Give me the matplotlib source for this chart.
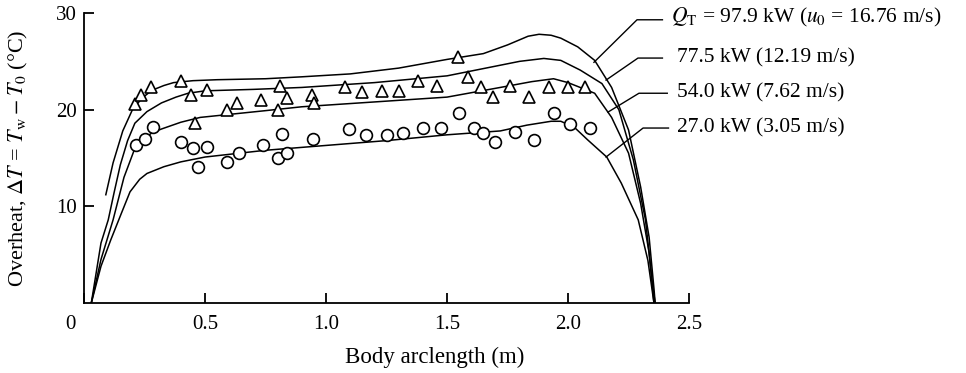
import matplotlib
matplotlib.use("Agg")
import matplotlib.pyplot as plt
from matplotlib.transforms import ScaledTranslation

plt.rcParams["font.family"] = ["Liberation Serif", "DejaVu Serif"]
plt.rcParams["mathtext.fontset"] = "stix"

# Computed wall overheat curves (x: body arclength in m, y: overheat in deg C)
x_979 = [0.09, 0.12, 0.16, 0.20, 0.24, 0.28, 0.33, 0.37, 0.45, 0.55, 0.75, 0.90,
         1.10, 1.30, 1.50, 1.65, 1.75, 1.835, 1.88, 1.93, 1.97, 2.04, 2.11, 2.18,
         2.25, 2.30, 2.335, 2.355, 2.36]
y_979 = [11.2, 14.5, 17.8, 20.0, 21.2, 22.0, 22.5, 22.8, 23.0, 23.1, 23.2, 23.4,
         23.7, 24.3, 25.2, 25.8, 26.7, 27.6, 27.8, 27.7, 27.4, 26.5, 25.1, 22.3,
         17.9, 12.0, 6.8, 1.5, 0.0]

x_775 = [0.03, 0.07, 0.10, 0.124, 0.15, 0.18, 0.21, 0.26, 0.32, 0.38, 0.43, 0.50,
         0.70, 0.90, 1.20, 1.50, 1.70, 1.80, 1.90, 1.97, 2.05, 2.14, 2.21, 2.27,
         2.32, 2.35, 2.36]
y_775 = [0.0, 6.2, 8.6, 11.4, 14.3, 16.8, 18.6, 19.8, 20.7, 21.3, 21.7, 21.95,
         22.1, 22.3, 22.8, 23.5, 24.5, 25.0, 25.3, 25.1, 24.1, 22.7, 20.0, 14.8,
         8.6, 1.7, 0.0]

x_540 = [0.03, 0.07, 0.12, 0.165, 0.21, 0.25, 0.28, 0.32, 0.40, 0.48, 0.75, 0.90,
         1.20, 1.50, 1.72, 1.85, 1.94, 2.00, 2.11, 2.18, 2.25, 2.30, 2.335, 2.355]
y_540 = [0.0, 4.5, 8.6, 13.0, 16.0, 17.0, 17.6, 18.0, 18.7, 19.2, 19.9, 20.3,
         20.8, 21.3, 22.3, 22.9, 23.2, 22.8, 21.7, 19.2, 15.5, 10.3, 5.2, 0.0]

x_270 = [0.03, 0.07, 0.11, 0.153, 0.19, 0.23, 0.26, 0.33, 0.40, 0.50, 0.75, 1.00,
         1.25, 1.50, 1.72, 1.83, 1.93, 1.97, 2.025, 2.08, 2.16, 2.22, 2.29, 2.33,
         2.355]
y_270 = [0.0, 3.8, 6.5, 9.2, 11.5, 12.8, 13.4, 14.1, 14.6, 15.1, 15.8, 16.3,
         16.8, 17.4, 17.8, 18.4, 18.8, 18.8, 18.2, 16.9, 15.1, 12.4, 8.6, 4.4, 0.0]

# Measured overheat, triangles
tri_x = [0.21, 0.235, 0.277, 0.40, 0.44, 0.51, 0.46, 0.59, 0.63, 0.73, 0.80, 0.81,
         0.84, 0.94, 0.95, 1.08, 1.15, 1.23, 1.30, 1.38, 1.46, 1.545, 1.585, 1.64,
         1.69, 1.76, 1.84, 1.92, 2.00, 2.07]
tri_y = [20.6, 21.5, 22.3, 23.0, 21.5, 22.0, 18.6, 20.0, 20.7, 21.0, 20.0, 22.4,
         21.2, 21.5, 20.7, 22.3, 21.8, 21.9, 21.9, 23.0, 22.4, 25.4, 23.4, 22.3,
         21.3, 22.4, 21.3, 22.3, 22.3, 22.3]

# Measured overheat, circles
cir_x = [0.215, 0.25, 0.285, 0.40, 0.45, 0.51, 0.47, 0.59, 0.64, 0.74, 0.80, 0.82,
         0.84, 0.945, 1.095, 1.165, 1.25, 1.32, 1.40, 1.475, 1.55, 1.61, 1.65,
         1.70, 1.78, 1.86, 1.94, 2.01, 2.09]
cir_y = [16.3, 17.0, 18.2, 16.7, 16.0, 16.1, 14.1, 14.6, 15.5, 16.3, 15.0, 17.5,
         15.5, 17.0, 18.0, 17.4, 17.4, 17.6, 18.1, 18.1, 19.7, 18.1, 17.6,
         16.7, 17.7, 16.9, 19.7, 18.5, 18.1]

curve_labels = [r"$Q_\mathrm{T}$ = 97.9 kW ($u_0$ = 16.76 m/s)",
                "77.5 kW (12.19 m/s)",
                "54.0 kW (7.62 m/s)",
                "27.0 kW (3.05 m/s)"]
# leader line: point on curve, elbow, end of horizontal run
leader_pts = [[(2.107, 24.9), (2.285, 29.3), (2.39, 29.3)],
              [(2.157, 23.06), (2.289, 25.34), (2.39, 25.34)],
              [(2.165, 19.75), (2.293, 21.7), (2.41, 21.7)],
              [(2.157, 15.1), (2.31, 18.1), (2.415, 18.1)]]
label_x = [2.425, 2.452, 2.452, 2.452]
label_y = [29.5, 25.4, 21.7, 18.1]

xticks = [0, 0.5, 1.0, 1.5, 2.0, 2.5]
xtick_labels = ["0", "0.5", "1.0", "1.5", "2.0", "2.5"]
yticks = [10, 20, 30]

fig = plt.figure(figsize=(9.66, 3.73), dpi=100)
ax = fig.add_axes([0.0870, 0.1877, 0.6263, 0.7774])

for xs, ys in [(x_979, y_979), (x_775, y_775), (x_540, y_540), (x_270, y_270)]:
    ax.plot(xs, ys, color="black", lw=1.1, solid_joinstyle="round")

ax.plot(tri_x, tri_y, linestyle="none", marker="^", ms=9, mfc="white",
        mec="black", mew=1.2)
ax.plot(cir_x, cir_y, linestyle="none", marker="o", ms=8.5, mfc="white",
        mec="black", mew=1.2)

for pts, tx, ty, txt in zip(leader_pts, label_x, label_y, curve_labels):
    ax.plot([p[0] for p in pts], [p[1] for p in pts], color="black", lw=1.0,
            clip_on=False)
    ax.text(tx, ty, txt, fontsize=15.5, ha="left", va="center", clip_on=False)

ax.set_xlim(0, 2.5)
ax.set_ylim(0, 30)
ax.spines["top"].set_visible(False)
ax.spines["right"].set_visible(False)
ax.spines["left"].set_linewidth(1.3)
ax.spines["bottom"].set_linewidth(1.3)

ax.set_xticks(xticks)
ax.set_xticklabels(xtick_labels)
ax.set_yticks(yticks)
ax.tick_params(axis="both", direction="in", length=7, width=1.3,
               labelsize=15)
ax.tick_params(axis="x", pad=9)
ax.tick_params(axis="y", pad=5)
# the origin label sits left of the corner
ax.get_xticklabels()[0].set_transform(
    ax.get_xticklabels()[0].get_transform()
    + ScaledTranslation(-0.14, 0, fig.dpi_scale_trans))

ax.set_xlabel("Body arclength (m)", fontsize=16.5)
ax.xaxis.set_label_coords(0.580, -0.15)
ax.set_ylabel(r"Overheat, $\Delta T$ = $T_\mathrm{w} - T_0$ (°C)", fontsize=16)
ax.yaxis.set_label_coords(-0.090, 0.50)

fig.savefig("out.png", dpi=100)
